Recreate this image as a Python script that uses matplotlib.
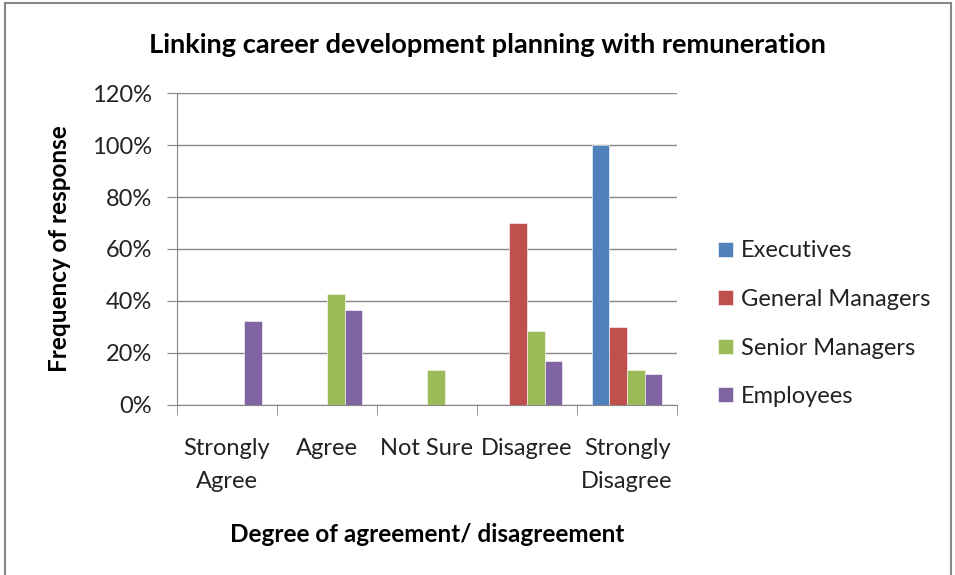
import numpy as np
import matplotlib.pyplot as plt
from matplotlib.patches import Rectangle
from matplotlib.ticker import PercentFormatter

plt.rcParams['font.family'] = ['Lato', 'DejaVu Sans']

categories = ['Strongly\nAgree', 'Agree', 'Not Sure', 'Disagree', 'Strongly\nDisagree']
series = ['Executives', 'General Managers', 'Senior Managers', 'Employees']
executives = [0, 0, 0, 0, 100]
general_managers = [0, 0, 0, 70, 30]
senior_managers = [0, 42.5, 13.3, 28.6, 13.3]
employees = [32.1, 36.6, 0, 16.7, 11.8]
colors = ['#4F81BD', '#C0504D', '#9BBB59', '#8064A2']

values = [executives, general_managers, senior_managers, employees]

fig = plt.figure(figsize=(9.55, 5.75), dpi=100)
ax = fig.add_axes([0.185, 0.296, 0.524, 0.542])

x = np.arange(len(categories))
w = 0.177
for i, (name, vals) in enumerate(zip(series, values)):
    ax.bar(x + (i - 1.5) * w, vals, w, color=colors[i], label=name,
           edgecolor='white', linewidth=0.4, zorder=3)

ax.set_xlim(-0.5, len(categories) - 0.5)
ax.set_ylim(0, 120)
ax.set_yticks(np.arange(0, 121, 20))
ax.yaxis.set_major_formatter(PercentFormatter(decimals=0))
ax.set_xticks(x)
ax.set_xticklabels(categories, fontsize=17, color='#222222', linespacing=1.7)
ax.set_xticks(np.arange(-0.5, len(categories)), minor=True)
ax.tick_params(axis='x', which='major', length=0, pad=24)
ax.tick_params(axis='x', which='minor', length=7, color='#868686', direction='out')
ax.tick_params(axis='y', length=7, color='#868686', labelsize=17, labelcolor='#222222', pad=11)

ax.grid(axis='y', color='#868686', linewidth=1, zorder=0)
for s in ['top', 'right']:
    ax.spines[s].set_visible(False)
for s in ['left', 'bottom']:
    ax.spines[s].set_color('#868686')

fig.text(487 / 955, 1 - 45 / 575, 'Linking career development planning with remuneration',
         fontsize=19.6, fontweight='bold', ha='center', va='center')
ax.set_xlabel('Degree of agreement/ disagreement', fontsize=17.5, fontweight='bold', labelpad=22)
ax.set_ylabel('Frequency of response', fontsize=17.5, fontweight='bold', labelpad=15)

ax.legend(loc='center left', bbox_to_anchor=(1.04, 0.26), frameon=False,
          fontsize=17, labelspacing=1.17, handlelength=0.6, handleheight=0.6,
          handletextpad=0.34, labelcolor='#222222')

fig.patches.append(Rectangle((5 / 955, -0.01), 946 / 955, 1 - 3 / 575 + 0.01,
                             transform=fig.transFigure, fill=False,
                             edgecolor='#868686', linewidth=1.5))

fig.savefig('out.png', dpi=100)
